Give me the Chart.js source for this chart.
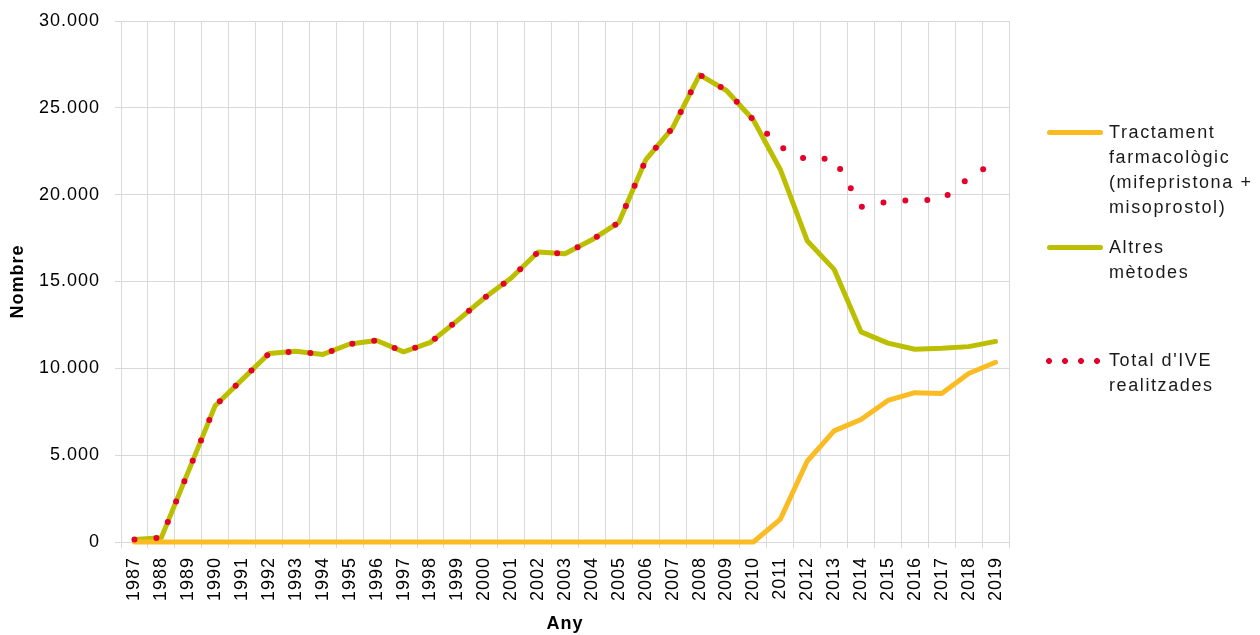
<!DOCTYPE html>
<html lang="ca">
<head>
  <meta charset="UTF-8">
  <title>IVE per mètode</title>
  <script src="https://cdn.jsdelivr.net/npm/chart.js"></script>
  <style>
    body { margin: 0; background: #fff; }
    .wrap { position: relative; width: 1260px; height: 635px; }
    canvas { position: absolute; left: 0; top: 0; }
    .llegenda { position: absolute; left: 1047px; top: 0; font: 18px 'Liberation Sans', Arial, sans-serif; color: #1a1a1a; letter-spacing: 1.6px; }
    .item { position: absolute; left: 0; line-height: 25px; white-space: nowrap; }
    .item .mostra { position: absolute; left: 0; width: 56px; height: 5px; border-radius: 3px; top: 10px; }
    .item .txt { position: absolute; left: 62px; }
    .punts { background: radial-gradient(circle, #e4002b 2.7px, transparent 3.2px) 0 0 / 16px 6px repeat-x; height: 6px !important; width: 60px !important; left: -6px !important; }
  </style>
</head>
<body>
  <div class="wrap">
    <canvas id="grafic" width="1260" height="635"></canvas>
    <div class="llegenda">
      <div class="item" style="top:120px">
        <div class="mostra" style="background:#fbbb23"></div>
        <div class="txt">Tractament<br>farmacològic<br>(mifepristona +<br>misoprostol)</div>
      </div>
      <div class="item" style="top:235px">
        <div class="mostra" style="background:#bcbf00"></div>
        <div class="txt">Altres<br>mètodes</div>
      </div>
      <div class="item" style="top:348px">
        <div class="mostra punts"></div>
        <div class="txt">Total d'IVE<br>realitzades</div>
      </div>
    </div>
  </div>
<script>
  const anys = ['1987', '1988', '1989', '1990', '1991', '1992', '1993', '1994', '1995', '1996', '1997',
    '1998', '1999', '2000', '2001', '2002', '2003', '2004', '2005', '2006', '2007', '2008',
    '2009', '2010', '2011', '2012', '2013', '2014', '2015', '2016', '2017', '2018', '2019'];

  // tractament farmacològic (mifepristona + misoprostol)
  const farmacologic = [0, 0, 0, 0, 0, 0, 0, 0, 0, 0, 0,
    0, 0, 0, 0, 0, 0, 0, 0, 0, 0, 0,
    0, 0, 1300, 4650, 6400, 7050, 8150, 8600, 8550, 9700, 10350];

  const altres = [150, 250, 4050, 7850, 9350, 10850, 10980, 10800, 11400, 11600, 10950,
    11500, 12750, 14050, 15200, 16700, 16600, 17400, 18400, 22000, 23850, 26900,
    26000, 24300, 21450, 17350, 15700, 12100, 11450, 11100, 11150, 11250, 11550];

  const total = [150, 250, 4050, 7850, 9350, 10850, 10980, 10800, 11400, 11600, 10950,
    11500, 12750, 14050, 15200, 16700, 16600, 17400, 18400, 22000, 23850, 26900,
    26000, 24300, 22750, 22000, 22100, 19300, 19600, 19700, 19700, 20950, 21900];

  const ticksY = [0, 5000, 10000, 15000, 20000, 25000, 30000];

  const font = "'Liberation Sans', Arial, sans-serif";
  const gris = '#d9d9d9';

  // separador de milers amb punt
  function milers(v) {
    return String(v).replace(/\B(?=(\d{3})+(?!\d))/g, '.');
  }

  const espaiat = {
    id: 'espaiat',
    beforeDraw(chart) { chart.ctx.letterSpacing = '1px'; }
  };

  new Chart(document.getElementById('grafic'), {
    type: 'line',
    data: {
      labels: anys,
      datasets: [
        {
          label: "Total d'IVE realitzades",
          data: total,
          borderColor: '#e4002b',
          borderWidth: 6,
          borderDash: [0, 22],
          borderCapStyle: 'round',
          clip: false,
          order: 0
        },
        {
          label: 'Tractament farmacològic (mifepristona + misoprostol)',
          data: farmacologic,
          borderColor: '#fbbb23',
          borderWidth: 5,
          borderCapStyle: 'round',
          clip: false,
          order: 1
        },
        {
          label: 'Altres mètodes',
          data: altres,
          borderColor: '#bcbf00',
          borderWidth: 5,
          borderCapStyle: 'round',
          clip: false,
          order: 2
        }
      ]
    },
    options: {
      responsive: false,
      animation: false,
      events: [],
      elements: {
        point: { radius: 0 },
        line: { tension: 0, borderJoinStyle: 'round' }
      },
      layout: { padding: { top: 21, right: 251, left: 0, bottom: 0 } },
      plugins: {
        legend: { display: false },
        tooltip: { enabled: false }
      },
      scales: {
        x: {
          offset: true,
          grid: { offset: true, color: gris, tickLength: 6, tickColor: gris },
          border: { color: gris },
          ticks: {
            autoSkip: false, minRotation: 90, maxRotation: 90, padding: 9,
            color: '#000', font: { family: font, size: 18 }
          },
          title: {
            display: true, text: 'Any', color: '#000',
            font: { family: font, size: 18, weight: 'bold' },
            padding: { top: 0, bottom: 0 }
          },
          afterFit(scale) { scale.height = 93; }
        },
        y: {
          min: 0,
          max: 30000,
          afterBuildTicks(scale) { scale.ticks = ticksY.map(v => ({ value: v })); },
          grid: { color: gris, tickLength: 6, tickColor: gris },
          border: { color: gris },
          ticks: {
            padding: 15, color: '#000', font: { family: font, size: 18 },
            callback: v => milers(v)
          },
          title: {
            display: true, text: 'Nombre', color: '#000',
            font: { family: font, size: 18, weight: 'bold' },
            padding: { top: 7, bottom: 0 }
          },
          afterFit(scale) { scale.width = 121; scale.paddingTop = 0; }
        }
      }
    },
    plugins: [espaiat]
  });
</script>
</body>
</html>
